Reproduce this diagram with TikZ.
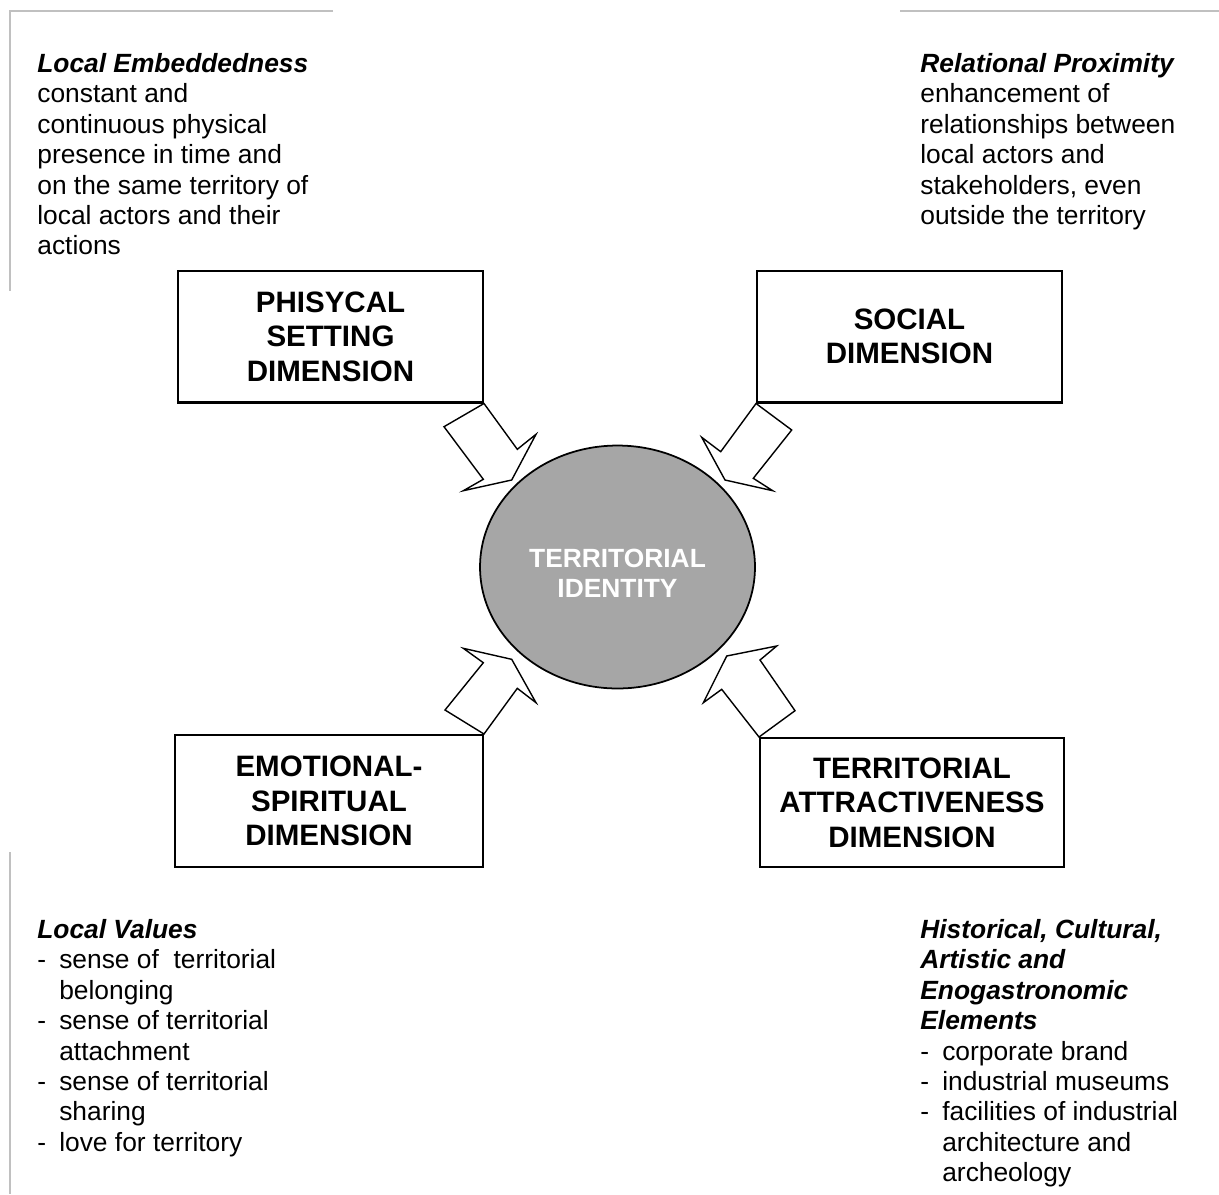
\documentclass[tikz,border=0pt]{standalone}
\usepackage{fontspec}
\setmainfont{Liberation Sans}
\usetikzlibrary{shapes.geometric}
\definecolor{idgray}{HTML}{A6A6A6}
\definecolor{rulegray}{HTML}{C0C0C0}
\newcommand{\dashitem}{\makebox[12.5pt][l]{-}}
\newcommand{\dashindent}{\hspace*{12.5pt}}
\tikzset{
  dimbox/.style={draw,line width=1.15pt,minimum width=6.1cm,minimum height=2.64cm,
    align=center,inner sep=0pt,font=\fontsize{16.8}{19.6}\selectfont\bfseries},
  notetext/.style={anchor=north west,inner sep=0pt,align=left,
    font=\fontsize{15}{17.3}\selectfont},
  blockarrow/.style={draw,line width=0.8pt,fill=white,line join=miter},
  frameline/.style={draw=rulegray,line width=1.3pt}
}
\begin{document}
\begin{tikzpicture}[x=0.02cm,y=-0.02cm]

  \useasboundingbox (0,0) rectangle (1219,1194);

  % ---- Frame rules -------------------------------------------
  \draw[frameline] (333,11) -- (10,11) -- (10,291);
  \draw[frameline] (900,11) -- (1219,11);
  \draw[frameline] (10,852) -- (10,1194);

  % ---- Dimension boxes ---------------------------------------
  \node[dimbox] (phys) at (330.5,336.5) {PHISYCAL\\SETTING\\DIMENSION};
  \node[dimbox] (social) at (909.5,336.5) {SOCIAL\\DIMENSION};
  \node[dimbox,minimum width=6.16cm] (emot) at (329,801)
    {EMOTIONAL-\\SPIRITUAL\\DIMENSION};
  \node[dimbox,minimum width=6.08cm,minimum height=2.58cm] (attract) at (912,802.5)
    {TERRITORIAL\\ATTRACTIVENESS\\DIMENSION};

  % ---- Block arrows into the centre --------------------------
  \draw[blockarrow] (phys.south east) -- (517.3,449.3) -- (536,434.3)
    -- (511.7,480) -- (463.3,490.7) -- (483.3,479.3) -- (444,426.7) -- cycle;
  \draw[blockarrow] (social.south west) -- (791.7,430) -- (753.3,478.3)
    -- (772.7,490.7) -- (725,480) -- (701.7,437.3) -- (720.7,451.7) -- cycle;
  \draw[blockarrow] (emot.north east) -- (445,710) -- (483.3,662.7)
    -- (463.3,648.3) -- (511.7,659.3) -- (536,702.7) -- (517.3,688.3) -- cycle;
  \draw[blockarrow] (attract.north west) -- (795,710.7) -- (760,660)
    -- (776.7,646) -- (726.7,656) -- (703.3,702.7) -- (721.7,689.3) -- cycle;

  % ---- Territorial identity ----------------------------------
  \node[ellipse,draw,line width=1pt,fill=idgray,minimum width=5.5cm,
    minimum height=4.86cm,inner sep=0pt,
    label={[text=white,align=center,yshift=-0.12cm,
      font=\fontsize{15}{17}\selectfont\bfseries]center:TERRITORIAL\\IDENTITY}]
    (ident) at (617.5,567) {};

  % ---- Corner notes ------------------------------------------
  \node[notetext] (embed) at (37,53)
    {{\bfseries\itshape Local Embeddedness}\\constant and\\continuous physical\\
     presence in time and\\on the same territory of\\local actors and their\\actions};
  \node[notetext] (proxim) at (920,53)
    {{\bfseries\itshape Relational Proximity}\\enhancement of\\relationships between\\
     local actors and\\stakeholders, even\\outside the territory};
  \node[notetext] (values) at (37,919)
    {{\bfseries\itshape Local Values}\\\dashitem sense of \ territorial\\
     \dashindent belonging\\\dashitem sense of territorial\\\dashindent attachment\\
     \dashitem sense of territorial\\\dashindent sharing\\\dashitem love for territory};
  \node[notetext] (heritage) at (920,919)
    {{\bfseries\itshape Historical, Cultural,}\\{\bfseries\itshape Artistic and}\\
     {\bfseries\itshape Enogastronomic}\\{\bfseries\itshape Elements}\\
     \dashitem corporate brand\\\dashitem industrial museums\\
     \dashitem facilities of industrial\\\dashindent architecture and\\
     \dashindent archeology};

\end{tikzpicture}
\end{document}
